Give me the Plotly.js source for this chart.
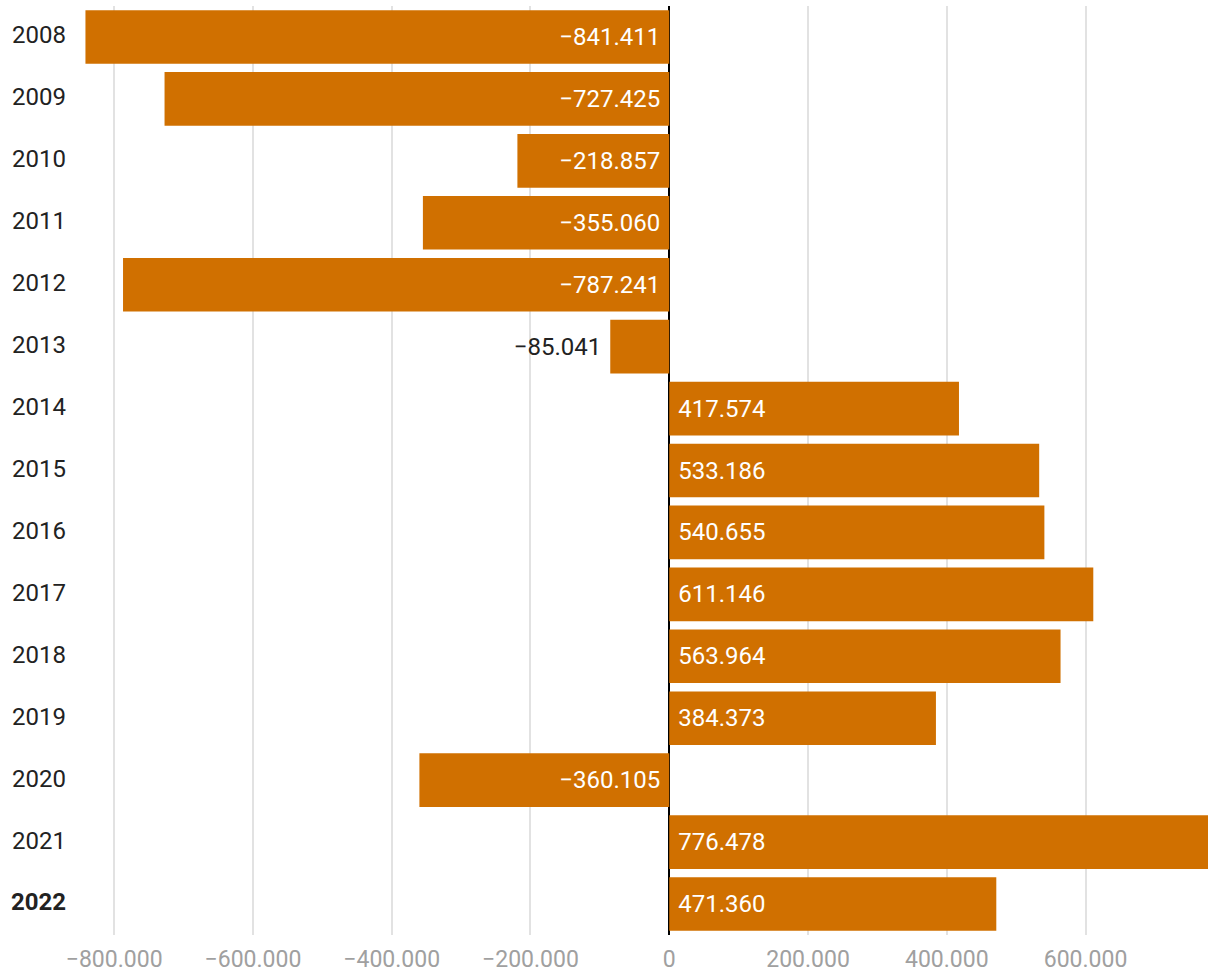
<!DOCTYPE html>
<html>
<head>
<meta charset="utf-8">
<script src="https://cdn.plot.ly/plotly-3.0.1.min.js"></script>
<style>html,body{margin:0;padding:0;background:#fff;}#chart{width:1220px;height:978px;}</style>
</head>
<body>
<div id="chart"></div>
<script>
const years = ["2008","2009","2010","2011","2012","2013","2014","2015","2016","2017","2018","2019","2020","2021","2022"];
const values = [-841411,-727425,-218857,-355060,-787241,-85041,417574,533186,540655,611146,563964,384373,-360105,776478,471360];
const yearLabels = ["2008","2009","2010","2011","2012","2013","2014","2015","2016","2017","2018","2019","2020","2021","<b>2022</b>"];
const xTicks = [-800000,-600000,-400000,-200000,0,200000,400000,600000];

function fmt(v) {
  const s = Math.abs(v).toString().replace(/\B(?=(\d{3})+(?!\d))/g, '.');
  return v < 0 ? '\u2212' + s + '\u00a0' : '\u00a0' + s;
}
const labels = values.map(fmt);

const trace = {
  type: 'bar',
  orientation: 'h',
  y: years,
  x: values,
  text: labels,
  texttemplate: '%{text}',
  marker: {color: '#d07000'},
  textposition: 'auto',
  insidetextanchor: 'start',
  insidetextfont: {color: '#ffffff', size: 24, family: 'Roboto'},
  outsidetextfont: {color: '#222222', size: 24, family: 'Roboto'},
  constraintext: 'none',
  cliponaxis: false,
  hoverinfo: 'none'
};

const layout = {
  width: 1220,
  height: 978,
  margin: {l: 67, r: 12, t: 6, b: 43},
  paper_bgcolor: '#ffffff',
  plot_bgcolor: '#ffffff',
  separators: ',.',
  font: {family: 'Roboto', size: 24, color: '#222222'},
  bargap: 0.134,
  showlegend: false,
  xaxis: {
    range: [-868000, 776478],
    tickvals: xTicks,
    tickformat: ',d',
    showgrid: true,
    gridcolor: '#e2e2e2',
    gridwidth: 2,
    zeroline: true,
    zerolinecolor: '#000000',
    zerolinewidth: 2,
    showline: false,
    ticks: '',
    ticklabelstandoff: 8,
    tickfont: {color: '#a0a0a0', size: 23, family: 'Roboto'},
    fixedrange: true
  },
  yaxis: {
    type: 'category',
    autorange: 'reversed',
    tickvals: years,
    ticktext: yearLabels,
    showgrid: false,
    zeroline: false,
    showline: false,
    ticks: '',
    ticklabelshift: 2,
    tickfont: {color: '#222222', size: 24, family: 'Roboto'},
    fixedrange: true
  }
};

Plotly.newPlot('chart', [trace], layout, {staticPlot: true, displayModeBar: false});
</script>
</body>
</html>
